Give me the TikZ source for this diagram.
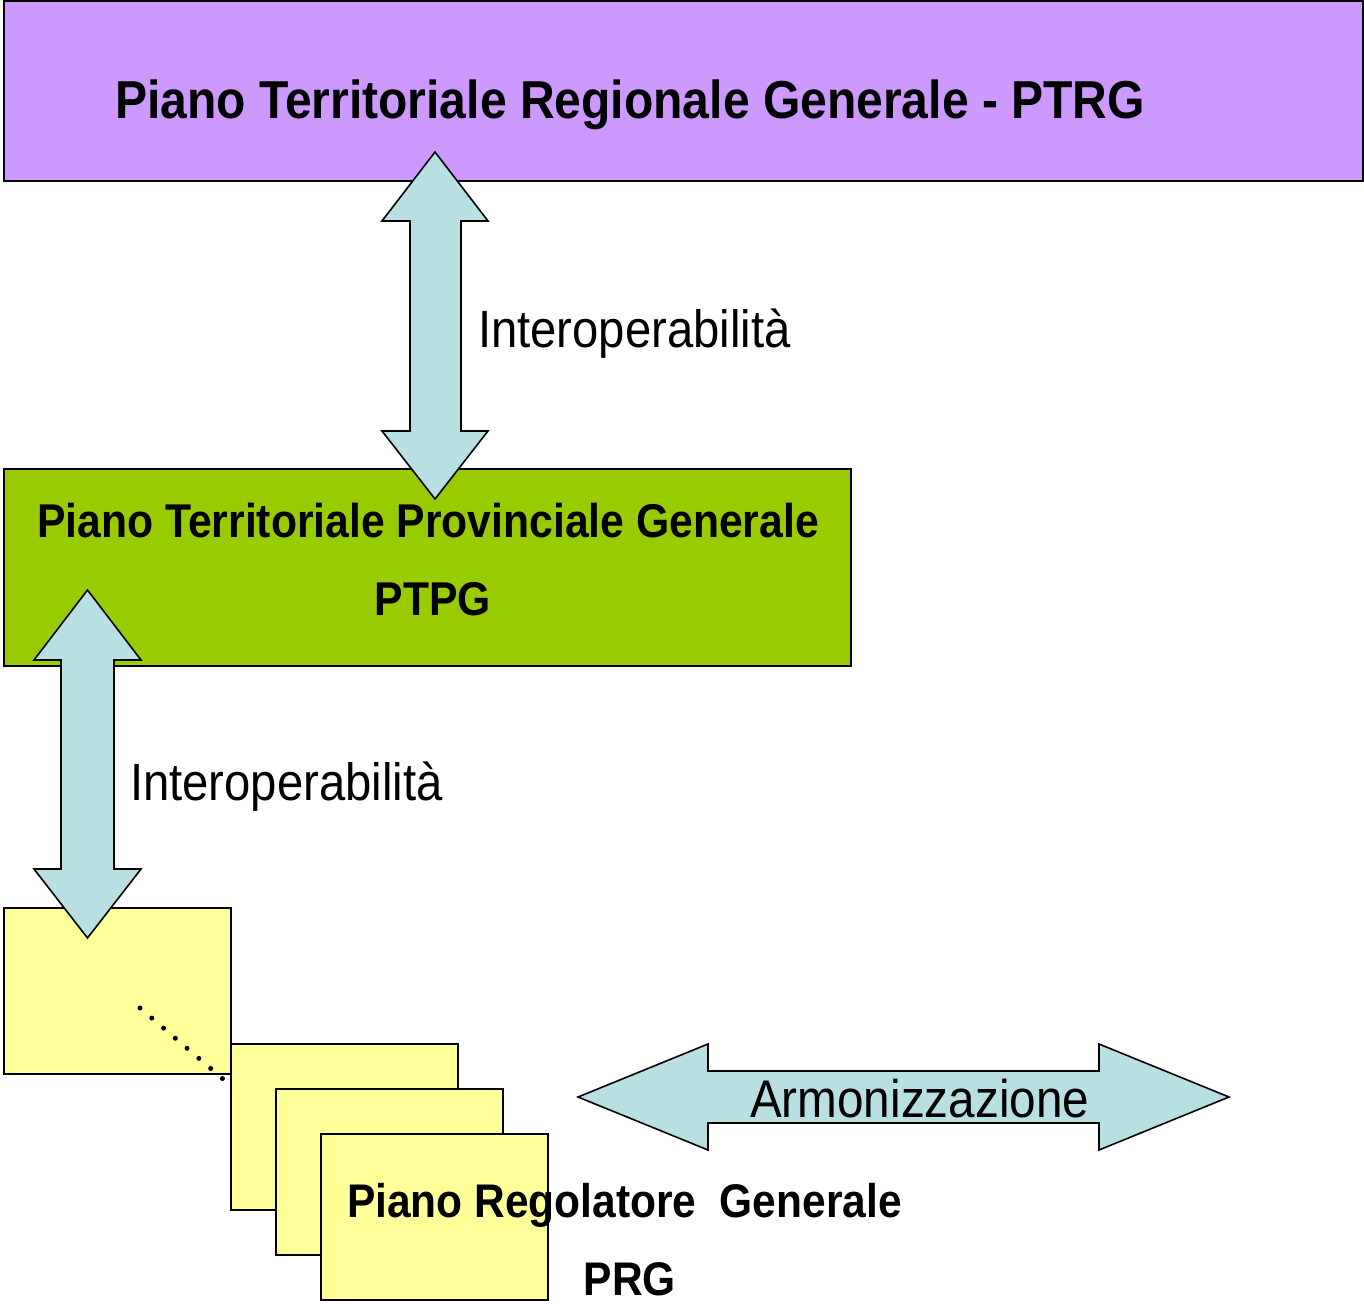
\documentclass[tikz,border=0pt]{standalone}
\usepackage{fontspec}
\setmainfont{Liberation Sans}[FakeStretch=0.9]
\definecolor{ptrgc}{HTML}{CC99FF}
\definecolor{ptpgc}{HTML}{99CC00}
\definecolor{prgc}{HTML}{FFFF99}
\definecolor{arrc}{HTML}{B8DFE2}
\tikzset{
  panel/.style={draw=black, line width=1.6pt, inner sep=0pt, outer sep=0pt, anchor=north west},
  blockarrow/.style={draw=black, line width=1.6pt, fill=arrc, line join=miter},
  lbl/.style={inner sep=0pt, outer sep=0pt},
}
\begin{document}
\begin{tikzpicture}[x=1pt, y=-1pt]
\useasboundingbox (0,0) rectangle (1364,1303);
% regional plan
\node[panel, fill=ptrgc, minimum width=1359pt, minimum height=180pt] (ptrg) at (4,1) {};
\node[lbl, anchor=base west, font=\fontsize{53.4}{60}\selectfont\bfseries] (ptrgt) at (115,118) {Piano Territoriale Regionale Generale - PTRG};
% provincial plan
\node[panel, fill=ptpgc, minimum width=847pt, minimum height=197pt] (ptpg) at (4,469) {};
\node[lbl, anchor=base, font=\fontsize{47.4}{52}\selectfont\bfseries] (ptpgt1) at (428,537) {Piano Territoriale Provinciale Generale};
\node[lbl, anchor=base, font=\fontsize{47.4}{52}\selectfont\bfseries] (ptpgt2) at (433,615) {PTPG};
% arrow PTRG <-> PTPG
\draw[blockarrow] (435,152) -- (488,221) -- (461,221) -- (461,431) -- (488,431) -- (435,499)
  -- (382,431) -- (410,431) -- (410,221) -- (382,221) -- cycle;
\node[lbl, anchor=base west, font=\fontsize{52.5}{58}\selectfont] (inter1) at (478,347) {Interoperabilità};
% municipal plans
\node[panel, fill=prgc, minimum width=227pt, minimum height=166pt] (prg1) at (4,908) {};
\draw[line width=5pt, line cap=round, dash pattern=on 0pt off 15.5pt] (140,1008) -- (223,1079);
\node[panel, fill=prgc, minimum width=227pt, minimum height=166pt] (prg2) at (231,1044) {};
\node[panel, fill=prgc, minimum width=227pt, minimum height=166pt] (prg3) at (276,1089) {};
\node[panel, fill=prgc, minimum width=227pt, minimum height=166pt] (prg4) at (321,1134) {};
% arrow PTPG <-> PRG
\draw[blockarrow] (87.5,590) -- (141,660) -- (114,660) -- (114,869) -- (141,869) -- (87.5,938)
  -- (34,869) -- (61,869) -- (61,660) -- (34,660) -- cycle;
\node[lbl, anchor=base west, font=\fontsize{52.5}{58}\selectfont] (inter2) at (130,800) {Interoperabilità};
% harmonisation arrow
\draw[blockarrow] (578,1097) -- (708,1044) -- (708,1071) -- (1099,1071) -- (1099,1044) -- (1229,1097)
  -- (1099,1150) -- (1099,1123) -- (708,1123) -- (708,1150) -- cycle;
\node[lbl, anchor=base west, font=\fontsize{53}{60}\selectfont] (armon) at (750,1117) {Armonizzazione};
% PRG label
\node[lbl, anchor=base west, font=\fontsize{47.2}{54}\selectfont\bfseries] (prgt1) at (347,1217) {Piano Regolatore\ \ Generale};
\node[lbl, anchor=base, font=\fontsize{47.2}{54}\selectfont\bfseries] (prgt2) at (630,1295) {PRG};
\end{tikzpicture}
\end{document}
